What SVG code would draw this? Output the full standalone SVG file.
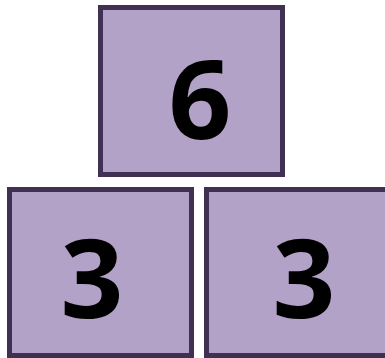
<svg xmlns="http://www.w3.org/2000/svg" width="385" height="358" viewBox="0 0 385 358">
<style>
.box{fill:#B3A2C7;stroke:#403152;stroke-width:5}
.num{font-family:"Open Sans","Noto Sans",sans-serif;font-weight:bold;font-size:110px;fill:#000;text-anchor:middle}
</style>
<rect width="385" height="358" fill="#fff"/>
<g id="node-top">
<rect class="box" x="100.5" y="7.5" width="182" height="167"/>
<text class="num" x="200" y="139">6</text>
</g>
<g id="node-left">
<rect class="box" x="9.5" y="189.5" width="182" height="166"/>
<text class="num" x="92" y="318">3</text>
</g>
<g id="node-right">
<rect class="box" x="206.5" y="189.5" width="182" height="166"/>
<text class="num" x="304" y="318">3</text>
</g>
<g id="connectors"></g>
</svg>
